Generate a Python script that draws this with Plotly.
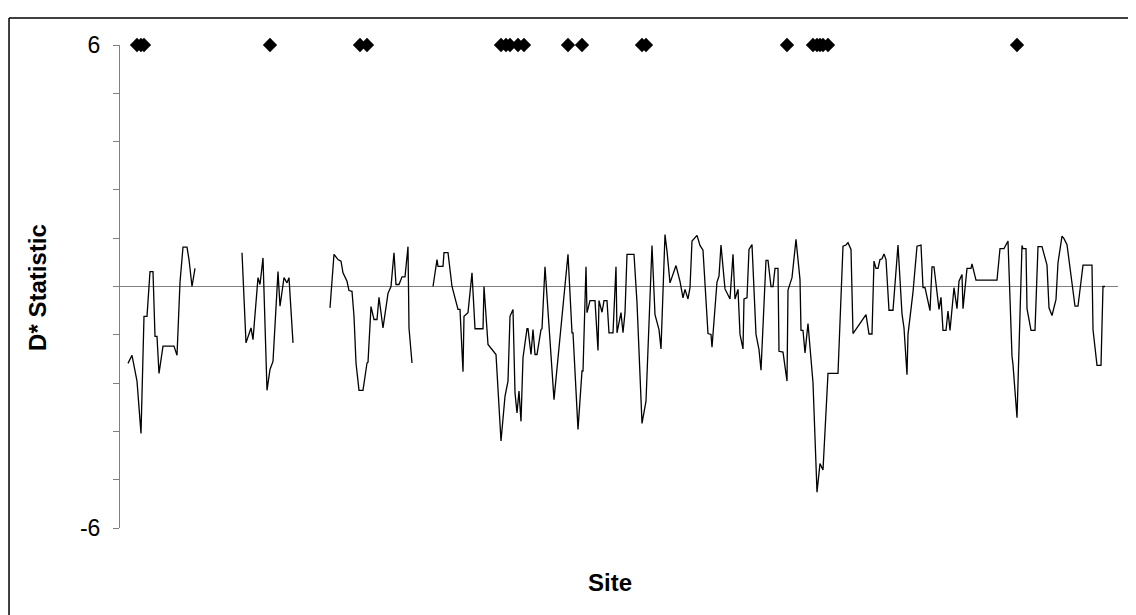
import plotly.graph_objects as go

# D* statistic along sites (None = gap in the series)
sites = [8, 12, 17, 21, 24, 27, 30, 33, 35, 37, 39, 43, 54, 57, 60, 63, 67, 69, 72, 75, None,
         122, 126, 131, 133, 138, 140, 143, 147, 150, 153, 158, 160, 164, 167, 169, 173, None,
         210, 212, 214, 218, 221, 223, 227, 229, 232, 234, 236, 239, 243, 247, 248, 251, 254, 257, 259,
         263, 268, 271, 274, 276, 279, 282, 285, 288, 289, 292, None,
         313, 317, 318, 323, 324, 328, 332, 336, 338, 340, 343, 344, 348, 352, 355, 363, 364, 368, 376,
         381, 385, 388, 390, 393, 395, 397, 399, 401, 403, 407, 408, 411, 413, 415, 417, 421, 422, 425,
         434, 448, 452, 453, 458, 462, 463, 466, 467, 470, 475, 478, 479, 482, 484, 487, 489, 493, 496,
         497, 501, 503, 505, 507, 514, 517, 522, 526, 532, 535, 539, 541, 545, 547, 550, 556, 560, 563,
         565, 568, 570, 572, 577, 580, 583, 588, 591, 592, 597, 599, 601, 605, 610, 613, 615, 618, 620,
         623, 624, 627, 629, 632, 636, 639, 641, 646, 648, 651, 653, 655, 658, 659, 663, 667, 668, 672,
         676, 680, 681, 683, 685, 688, 693, 697, 700, 703, 708, 718, 723, 726, 728, 731, 733, 746, 749,
         752, 754, 756, 758, 760, 762, 764, 766, 769, 773, 778, 782, 784, 787, 788, 793, 797, 801, 803,
         805, 810, 812, 814, 819, 821, 823, 826, 828, 830, 834, 837, 839, 842, 843, 847, 851, 852, 856,
         877, 880, 884, 886, 888, 892, 893, 897, 902, 903, 906, 907, 911, 915, 918, 922, 925, 927, 929,
         932, 936, 938, 942, 944, 947, 955, 958, 963, 972, 973, 977, 981, 983, 985]

d_star = [-1.91, -1.71, -2.35, -3.65, -0.74, -0.74, 0.37, 0.37, -1.24, -1.24, -2.16, -1.48, -1.48, -1.71,
          0.10, 0.98, 0.98, 0.67, 0.0, 0.45, None,
          0.84, -1.40, -1.03, -1.32, 0.22, 0.05, 0.71, -2.58, -2.06, -1.86, 0.37, -0.49, 0.22, 0.09, 0.22,
          -1.40, None,
          -0.53, 0.22, 0.80, 0.67, 0.63, 0.34, 0.13, -0.10, -0.12, -0.74, -1.90, -2.58, -2.58, -1.90, -1.88,
          -0.50, -0.82, -0.82, -0.27, -1.03, -0.17, 0.0, 0.84, 0.05, 0.05, 0.24, 0.24, 0.99, -1.03, -1.90, None,
          0.0, 0.67, 0.50, 0.50, 0.84, 0.84, 0.0, -0.40, -0.57, -0.57, -2.12, -0.74, -0.65, 0.34, -1.05,
          -1.05, 0.0, -1.44, -1.69,
          -3.84, -2.73, -2.35, -0.74, -0.57, -2.64, -3.14, -2.60, -3.35, -1.77, -1.05, -1.05, -1.69, -1.07,
          -1.69, -1.69, -1.07, -1.05, 0.49,
          -2.81, 0.80, -1.15, -1.15, -3.55, -2.10, -2.10, 0.49, -0.65, -0.35, -0.35, -1.59, -0.35, -0.64,
          -0.35, -0.35, -1.15, -1.15, 0.49,
          -1.15, -0.65, -1.15, -0.65, 0.80, 0.80, -0.40, -3.40, -2.85, 1.02, -0.70, -1.07, -1.55, 1.29,
          0.88, 0.09, 0.52, 0.13, -0.28,
          -0.07, -0.31, -0.03, 1.13, 1.27, 1.02, 0.90, -1.17, -1.19, -1.51, 0.11, 0.26, 1.03, -0.06, -0.31,
          0.80, -0.31, -0.07, -1.19,
          -1.55, -0.31, -0.28, 0.92, 1.04, -1.19, -1.57, -2.08, 0.65, 0.65, 0.0, 0.0, 0.45, 0.45, -1.61,
          -1.63, -2.35, -0.09, 0.22,
          1.17, 0.17, -1.09, -1.09, -1.65, -0.92, -2.39, -5.11, -4.40, -4.56, -2.16, -2.16, 1.00, 1.03,
          1.09, 0.92, -1.17, -0.70, -1.18,
          -1.18, 0.63, 0.45, 0.45, 0.67, 0.69, 0.81, 0.67, -0.59, -0.59, 1.03, -0.68, -1.03, -2.19, -1.19,
          -0.14, 1.00, 1.03, -0.03,
          -0.03, -0.60, 0.49, 0.49, -0.57, -0.27, -1.09, -1.09, -0.61, -1.09, -0.03, -0.55, 0.13, 0.30,
          -0.55, 0.45, 0.45, 0.56, 0.16,
          0.16, 0.94, 0.94, 1.04, 1.13, -1.73, -1.94, -3.26, 1.02, 0.94, 0.94, -0.55, -1.09, -1.09, 0.99,
          0.99, 0.69, 0.53, -0.53,
          -0.72, -0.32, 0.59, 1.25, 1.19, 1.04, -0.49, -0.49, 0.53, 0.53, -1.07, -1.96, -1.96, 0.0, 0.0]

# significant sites, plotted as diamonds at the top of the scale
sig_sites = [17, 21, 24, 150, 240, 247, 381, 386, 390, 398, 404, 448, 462, 522, 526, 667,
             693, 697, 700, 703, 708, 897]
sig_level = [6] * len(sig_sites)

y_tick_vals = [-6, -4.8, -3.6, -2.4, -1.2, 0, 1.2, 2.4, 3.6, 4.8, 6]
y_tick_text = ["-6", "", "", "", "", "", "", "", "", "", "6"]

FONT = "Liberation Sans, Arial, sans-serif"

fig = go.Figure()
fig.add_trace(go.Scatter(x=sites, y=d_star, mode="lines", connectgaps=False,
                         line=dict(color="black", width=1.3), showlegend=False, hoverinfo="skip"))
fig.add_trace(go.Scatter(x=sig_sites, y=sig_level, mode="markers",
                         marker=dict(symbol="diamond", size=11, color="black"),
                         cliponaxis=False, showlegend=False))

fig.update_layout(
    width=1136, height=615,
    margin=dict(l=112, r=26, t=37, b=95),
    paper_bgcolor="white", plot_bgcolor="white",
    font=dict(family=FONT, color="black"),
    xaxis=dict(range=[0, 998], showticklabels=False, ticks="", showgrid=False,
               zeroline=False, showline=False),
    yaxis=dict(range=[-6, 6], tickvals=y_tick_vals, ticktext=y_tick_text,
               ticks="outside", ticklen=6, tickcolor="#808080", tickwidth=1,
               ticklabelstandoff=8,
               showline=True, linecolor="#808080", linewidth=1,
               showgrid=False, zeroline=True, zerolinecolor="#808080", zerolinewidth=1,
               tickfont=dict(size=23, family=FONT, color="black")),
    annotations=[
        dict(text="<b>Site</b>", xref="paper", yref="paper", x=0.491, y=-0.112,
             xanchor="center", yanchor="middle", showarrow=False,
             font=dict(size=24, family=FONT, color="black")),
        dict(text="<b>D* Statistic</b>", xref="paper", yref="paper", x=-0.0822, y=0.499,
             xanchor="center", yanchor="middle", textangle=-90, showarrow=False,
             font=dict(size=24, family=FONT, color="black")),
    ],
    shapes=[
        dict(type="line", xref="paper", yref="paper", x0=-0.1112, x1=1.05, y0=1.0559, y1=1.0559,
             line=dict(color="black", width=1.5)),
        dict(type="line", xref="paper", yref="paper", x0=-0.1112, x1=-0.1112, y0=1.0559, y1=-0.2,
             line=dict(color="black", width=1.5)),
    ],
)

fig.write_html("out.html")
